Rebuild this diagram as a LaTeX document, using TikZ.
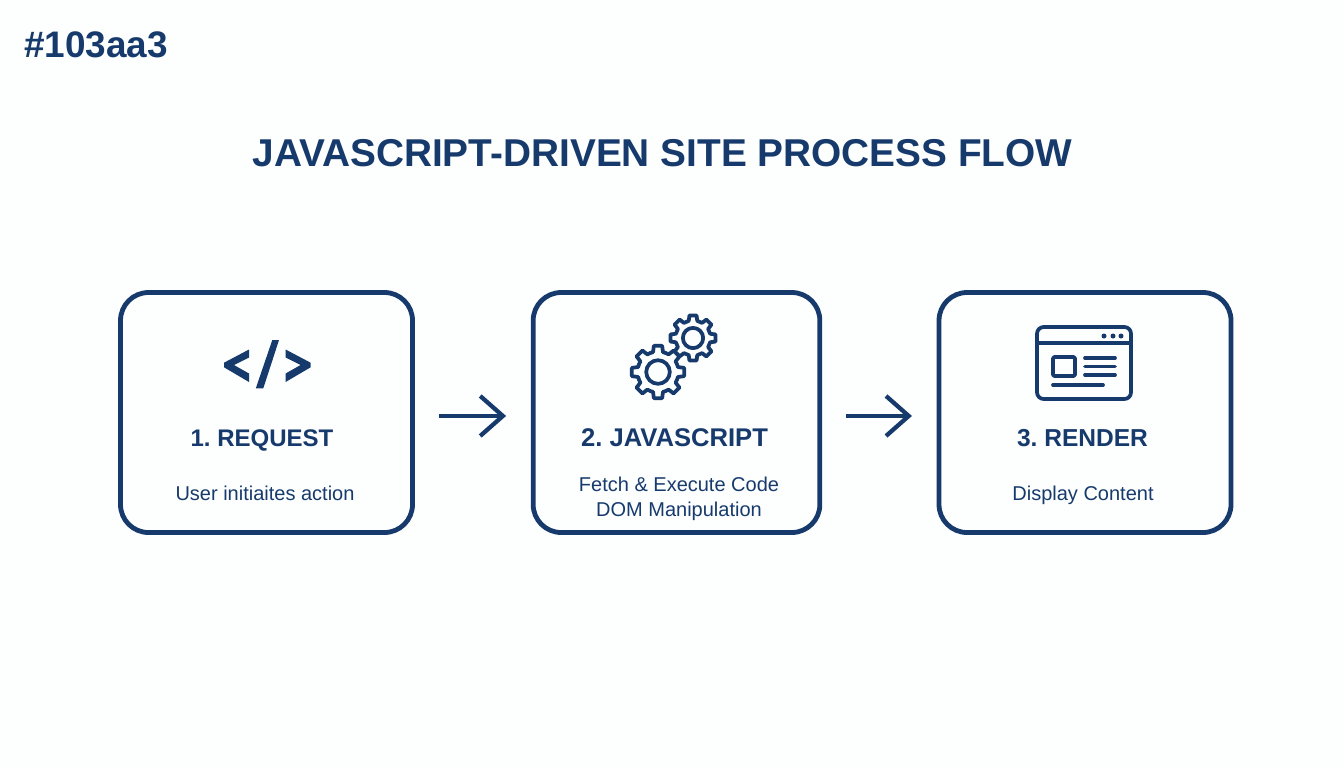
\documentclass[tikz,border=0pt]{standalone}
\usepackage{fontspec}
\setmainfont{Liberation Sans}
\usetikzlibrary{arrows.meta}
\definecolor{navy}{HTML}{163A6C}
\definecolor{bgc}{HTML}{FDFEFE}
\tikzset{
  card/.style={draw=navy,line width=3.6pt,rounded corners=21pt,minimum width=219pt,minimum height=180pt,inner sep=0pt},
  flow/.style={draw=navy,line width=3.2pt,shorten <=18pt,shorten >=18.5pt,-{Straight Barb[length=17pt,width=30pt,line width=3.2pt]}},
  heading/.style={text=navy,font=\frenchspacing\bfseries\fontsize{18.4}{22}\selectfont,inner sep=0pt,anchor=base},
  desc/.style={text=navy,font=\fontsize{15}{18.75}\selectfont,inner sep=0pt,align=center,anchor=base},
  icon/.style={draw=navy,line width=2.8pt,line cap=round,line join=round},
  glyph/.style={fill=navy,draw=none}
}
\newcommand{\cog}[3]{% x,y,scale: outer radius 27 px basis
  \begin{scope}[shift={(#1,#2)},scale=#3]
  \foreach \a in {0,45,...,315}{
    \draw[icon] (\a+90-14:20.5) -- (\a+90-9:26.5) -- (\a+90+9:26.5) -- (\a+90+14:20.5)
      arc[start angle=\a+104,end angle=\a+121,radius=20.5];
  }
  \draw[icon] (0,0) circle[radius=11.8];
  \end{scope}}
\begin{document}
\begin{tikzpicture}[x=0.75pt,y=-0.75pt]
\useasboundingbox (0,0) rectangle (1344,768);
\fill[bgc] (0,0) rectangle (1344,768);
\node[anchor=west,text=navy,font=\bfseries\fontsize{27.7}{30}\selectfont,inner sep=0pt] (tag) at (24,45) {\#103aa3};
\node[text=navy,font=\bfseries\fontsize{29.1}{36}\selectfont,inner sep=0pt] (title) at (662.5,153) {JAVASCRIPT-DRIVEN SITE PROCESS FLOW};
\node[card] (b1) at (266.5,412.5) {};
\node[card,minimum width=215pt] (b2) at (676.5,412.5) {};
\node[card] (b3) at (1085,412.5) {};
\draw[flow] ([yshift=-2.6pt]b1.east) -- ([yshift=-2.6pt]b2.west);
\draw[flow] ([yshift=-2.6pt]b2.east) -- ([yshift=-2.6pt]b3.west);
% code icon
\fill[glyph] (249,349.5) -- (224,362.7) -- (224,367.3) -- (249,382) -- (249,373.5) -- (234,365) -- (249,357.5) -- cycle;
\fill[glyph] (285.6,349.5) -- (310.6,362.7) -- (310.6,367.3) -- (285.6,382) -- (285.6,373.5) -- (300.6,365) -- (285.6,357.5) -- cycle;
\fill[glyph] (272.3,340) -- (279,340) -- (263.3,388.3) -- (255.8,388.3) -- cycle;
% gears
\cog{658}{372}{1}
\cog{693}{338}{0.86}
% window
\draw[icon,rounded corners=5pt] (1037,327) rectangle (1131,399);
\draw[icon] (1037,343) -- (1131,343);
\foreach \x in {1104,1113,1121}{\fill[navy] (\x,336) circle[radius=2.5];}
\draw[icon,rounded corners=1pt] (1053,357) rectangle (1075,376);
\foreach \y in {358,366.5,375}{\draw[icon] (1085,\y) -- (1115,\y);}
\draw[icon] (1053,385) -- (1103,385);
% labels
\node[heading,font=\frenchspacing\bfseries\fontsize{18}{22}\selectfont] (h1) at (262,446) {1. REQUEST};
\node[heading,font=\frenchspacing\bfseries\fontsize{19.2}{22}\selectfont] (h2) at (674.5,446) {2. JAVASCRIPT};
\node[heading] (h3) at (1082.5,446) {3. RENDER};
\node[desc] (d1) at (265,500) {User initiaites action};
\node[desc] (d2) at (679,516) {Fetch \& Execute Code\\DOM Manipulation};
\node[desc] (d3) at (1083,500) {Display Content};
\end{tikzpicture}
\end{document}
